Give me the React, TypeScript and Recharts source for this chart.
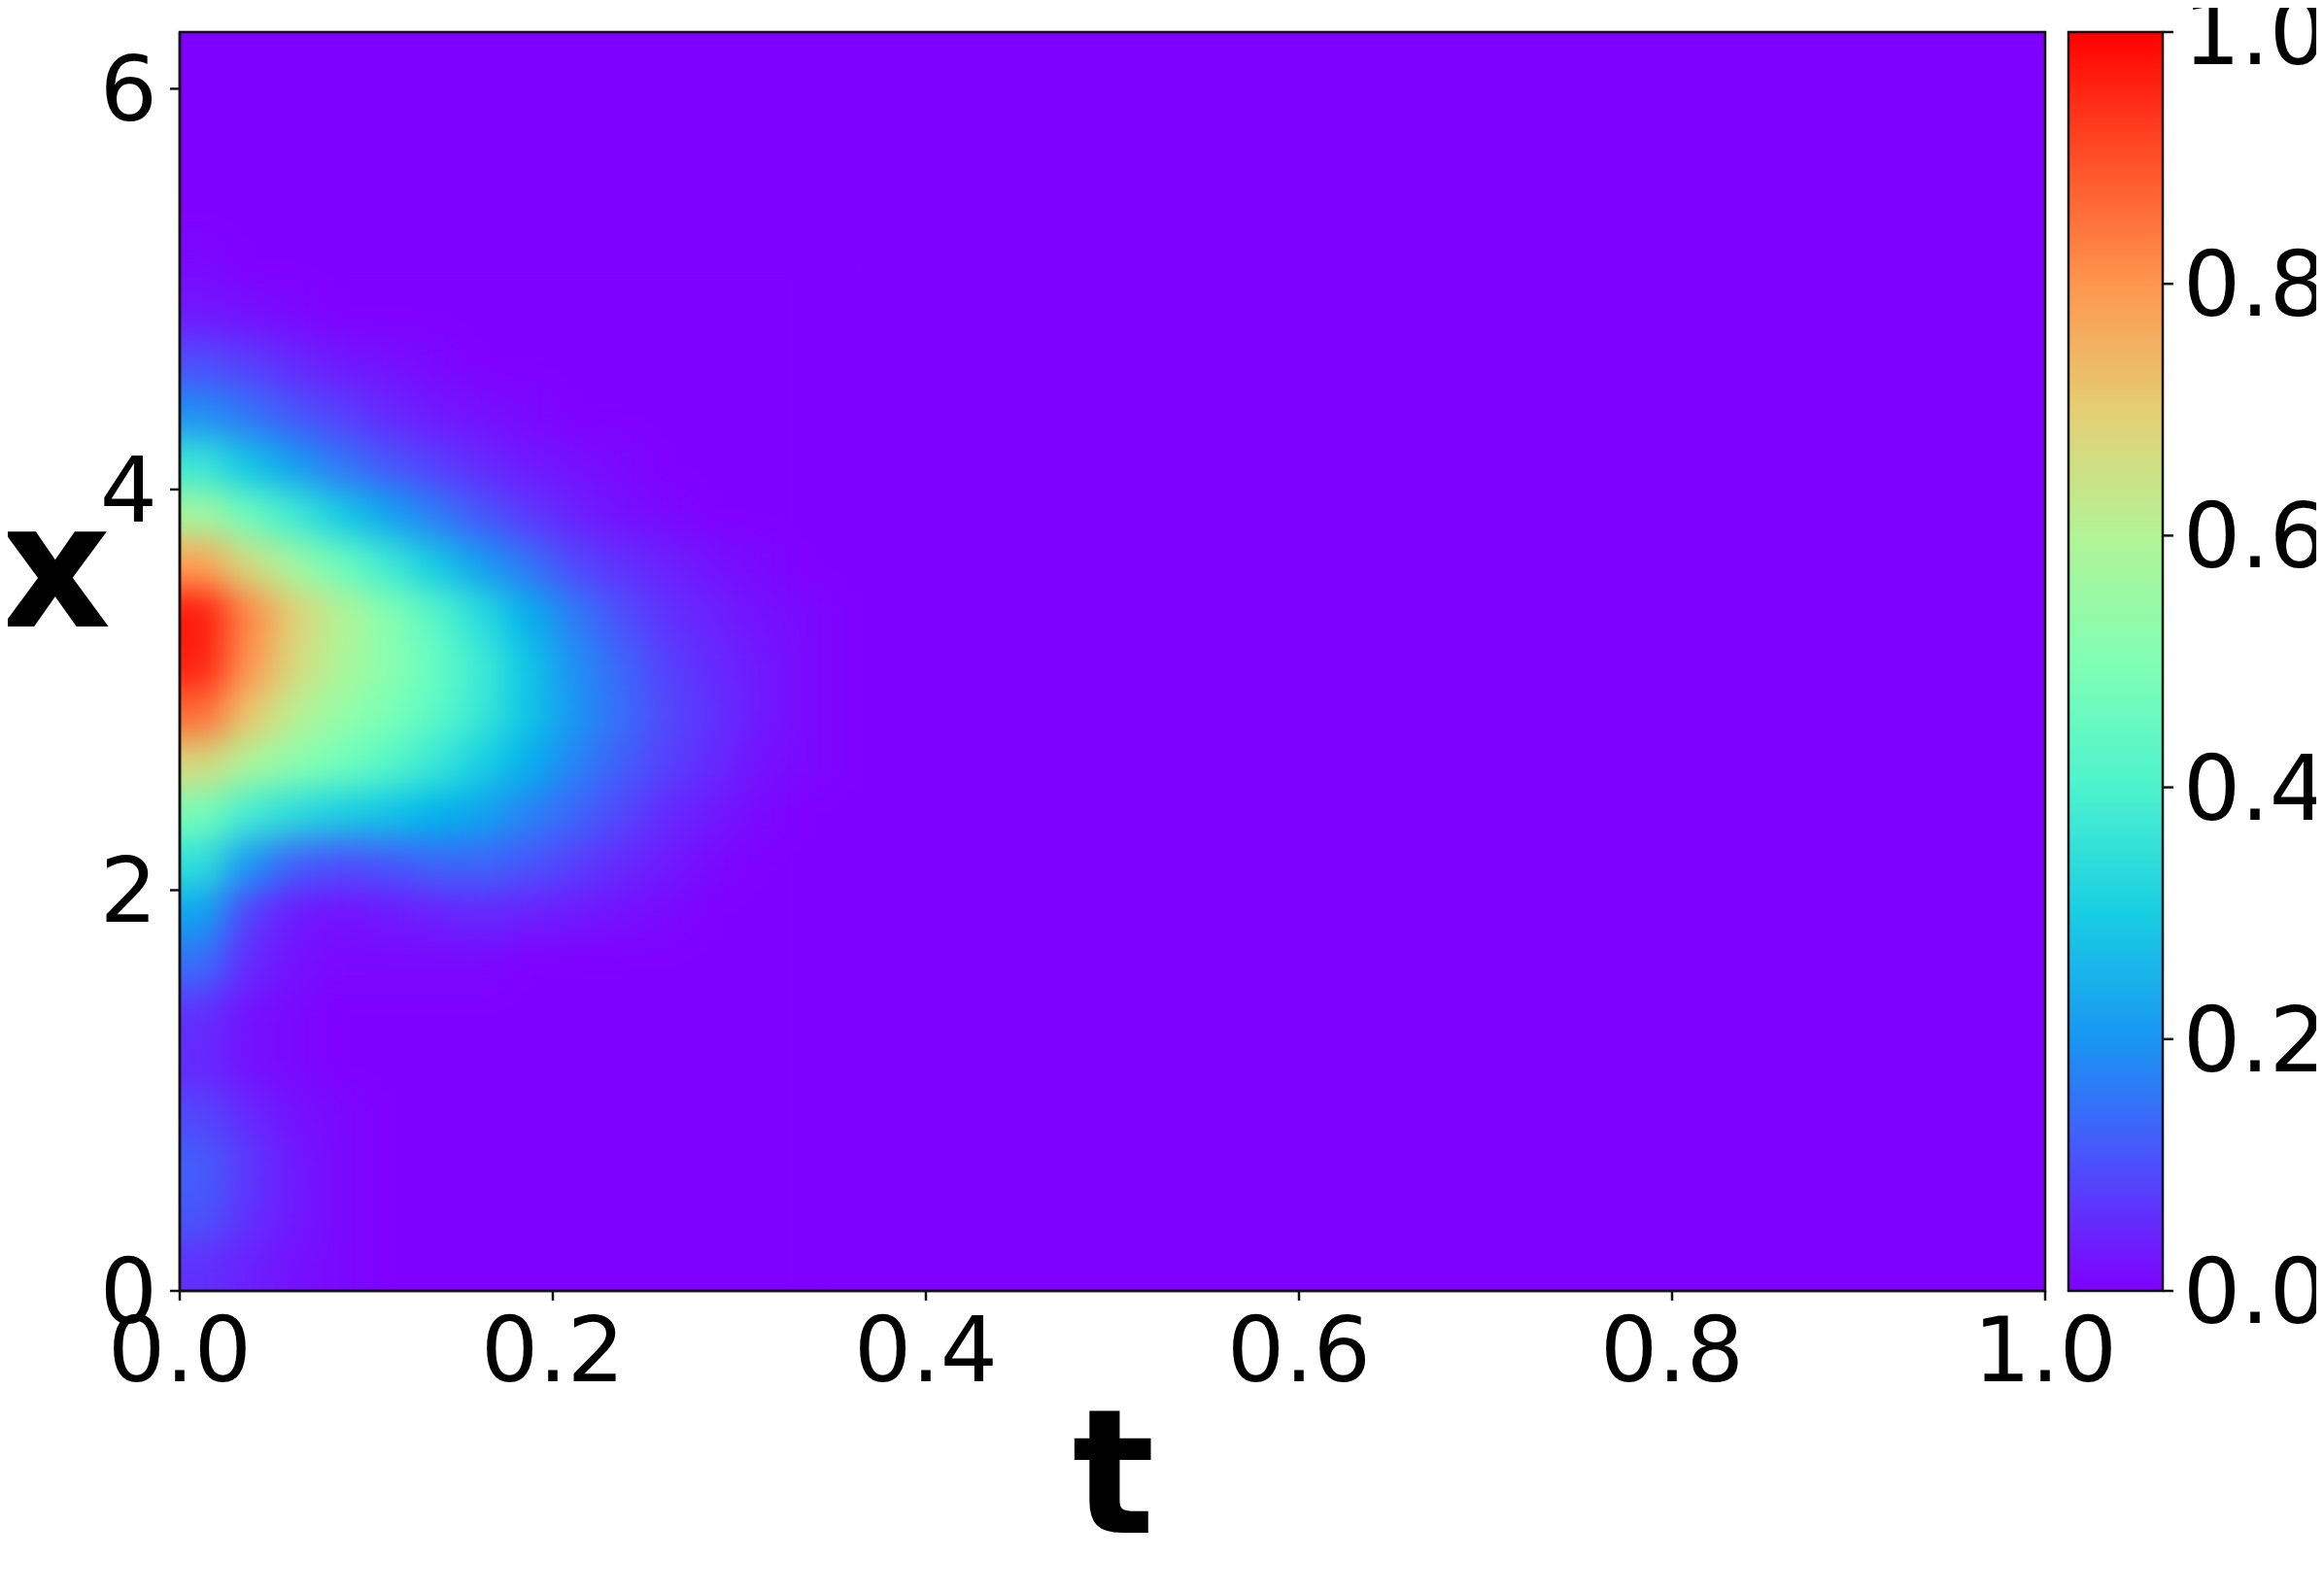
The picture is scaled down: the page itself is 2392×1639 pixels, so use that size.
import {
  ScatterChart, Scatter, XAxis, YAxis, ReferenceArea, BarChart, Bar, Label,
} from "recharts";

// heat grid: cell centres along t and x (0..1)
const T_COLS = [0.0125, 0.0375, 0.0625, 0.0875, 0.1125, 0.1375, 0.1625, 0.1875, 0.2125, 0.2375, 0.2625, 0.2875, 0.3125, 0.3375];
const X_ROWS = [5.125, 4.875, 4.625, 4.375, 4.125, 3.875, 3.625, 3.375, 3.125, 2.875, 2.625, 2.375, 2.125, 1.875, 1.625, 1.375, 1.125, 0.875, 0.625, 0.375, 0.125];

const U_5125 = [0.01, 0, 0, 0, 0, 0, 0, 0, 0, 0, 0, 0, 0, 0];
const U_4875 = [0.03, 0.02, 0.01, 0, 0, 0, 0, 0, 0, 0, 0, 0, 0, 0];
const U_4625 = [0.1, 0.08, 0.05, 0.03, 0.02, 0.01, 0, 0, 0, 0, 0, 0, 0, 0];
const U_4375 = [0.19, 0.15, 0.11, 0.08, 0.05, 0.03, 0.02, 0.01, 0, 0, 0, 0, 0, 0];
const U_4125 = [0.36, 0.28, 0.21, 0.15, 0.11, 0.08, 0.05, 0.03, 0.02, 0.01, 0, 0, 0, 0];
const U_3875 = [0.57, 0.46, 0.37, 0.29, 0.22, 0.16, 0.11, 0.07, 0.04, 0.02, 0.01, 0, 0, 0];
const U_3625 = [0.78, 0.66, 0.56, 0.46, 0.37, 0.29, 0.21, 0.15, 0.09, 0.06, 0.04, 0.02, 0.01, 0];
const U_3375 = [0.97, 0.82, 0.69, 0.6, 0.51, 0.42, 0.33, 0.24, 0.16, 0.1, 0.06, 0.04, 0.02, 0.01];
const U_3125 = [0.96, 0.8, 0.67, 0.59, 0.52, 0.45, 0.37, 0.28, 0.19, 0.13, 0.08, 0.05, 0.03, 0.01];
const U_2875 = [0.86, 0.71, 0.61, 0.54, 0.49, 0.43, 0.36, 0.28, 0.2, 0.14, 0.09, 0.06, 0.03, 0.01];
const U_2625 = [0.67, 0.58, 0.52, 0.47, 0.42, 0.36, 0.3, 0.24, 0.17, 0.12, 0.08, 0.05, 0.02, 0.01];
const U_2375 = [0.48, 0.38, 0.33, 0.3, 0.28, 0.25, 0.22, 0.17, 0.13, 0.09, 0.05, 0.03, 0.01, 0];
const U_2125 = [0.34, 0.2, 0.12, 0.1, 0.11, 0.13, 0.13, 0.11, 0.08, 0.05, 0.03, 0.01, 0, 0];
const U_1875 = [0.22, 0.08, 0.03, 0.02, 0.03, 0.04, 0.05, 0.04, 0.03, 0.02, 0.01, 0, 0, 0];
const U_1625 = [0.14, 0.05, 0.02, 0.01, 0.01, 0.01, 0.01, 0, 0, 0, 0, 0, 0, 0];
const U_1375 = [0.06, 0.02, 0.01, 0, 0, 0, 0, 0, 0, 0, 0, 0, 0, 0];
const U_1125 = [0.05, 0.02, 0.01, 0, 0, 0, 0, 0, 0, 0, 0, 0, 0, 0];
const U_0875 = [0.09, 0.05, 0.02, 0.01, 0, 0, 0, 0, 0, 0, 0, 0, 0, 0];
const U_0625 = [0.12, 0.07, 0.03, 0.01, 0, 0, 0, 0, 0, 0, 0, 0, 0, 0];
const U_0375 = [0.11, 0.06, 0.03, 0.01, 0, 0, 0, 0, 0, 0, 0, 0, 0, 0];
const U_0125 = [0.06, 0.04, 0.02, 0.01, 0, 0, 0, 0, 0, 0, 0, 0, 0, 0];

const HEAT_ROWS = [
  U_5125, U_4875, U_4625, U_4375, U_4125, U_3875, U_3625, U_3375, U_3125, U_2875, U_2625,
  U_2375, U_2125, U_1875, U_1625, U_1375, U_1125, U_0875, U_0625, U_0375, U_0125,
];

const T_TICKS = [0, 0.2, 0.4, 0.6, 0.8, 1.0];
const X_TICKS = [0, 2, 4, 6];
const CBAR_TICKS = [0, 0.2, 0.4, 0.6, 0.8, 1.0];
const X_MAX = 2 * Math.PI;

const T_STEP = 0.025;
const X_STEP = 0.25;

// layout (px)
const PLOT_L = 177;
const PLOT_T = 25;
const PLOT_W = 1920;
const PLOT_H = 1296;
const PAD = 60; // heat layer bleed, clipped away
const FONT = '"DejaVu Sans", sans-serif';
const TICK_FS = 93;
const LABEL_FS = 178;
const SPINE = "#111";

// matplotlib "rainbow"
function rainbow(v: number): string {
  const r = Math.min(1, Math.abs(2 * v - 0.5));
  const g = Math.sin(Math.PI * v);
  const b = Math.cos((Math.PI * v) / 2);
  const c = (n: number) => Math.round(Math.max(0, Math.min(1, n)) * 255);
  return `rgb(${c(r)},${c(g)},${c(b)})`;
}

const cells = X_ROWS.flatMap((x, i) => T_COLS.map((t, j) => ({ t, x, v: HEAT_ROWS[i][j] })));
const cbarData = [{ name: "c", v: 1 }];
const gradStops = [0, 0.1, 0.2, 0.3, 0.4, 0.5, 0.6, 0.7, 0.8, 0.9, 1];

const cellW = T_STEP * PLOT_W;
const cellH = (X_STEP / X_MAX) * PLOT_H;
const firstT = T_COLS[0];
const lastX = X_ROWS[X_ROWS.length - 1];

function HeatCell(props: any) {
  const { cx, cy, payload } = props;
  if (cx == null || cy == null) return null;
  // edge cells reach into the clipped margin so the blur keeps the edge value
  const growL = payload.t === firstT ? PAD : 0;
  const growB = payload.x === lastX ? PAD : 0;
  return (
    <rect x={cx - cellW / 2 - 0.5 - growL} y={cy - cellH / 2 - 0.5}
      width={cellW + 1 + growL} height={cellH + 1 + growB} fill={rainbow(payload.v)} />
  );
}

const NoShape = () => null;

const tickStyle = { fill: "#000", fontSize: TICK_FS, fontFamily: FONT };

export default function App() {
  return (
    <div style={{ position: "relative", width: 2384, height: 1631 }}>
      <svg width={0} height={0} style={{ position: "absolute" }}>
        <defs>
          <linearGradient id="cbarGrad" x1="0" y1="1" x2="0" y2="0">
            {gradStops.map(s => <stop key={s} offset={s} stopColor={rainbow(s)} />)}
          </linearGradient>
        </defs>
      </svg>

      {/* heat layer, blurred and clipped to the plot box */}
      <div style={{
        position: "absolute", left: PLOT_L, top: PLOT_T, width: PLOT_W, height: PLOT_H,
        overflow: "hidden", background: "#8000ff",
      }}>
        <div style={{ position: "absolute", left: -PAD, top: -PAD, filter: "blur(18px)" }}>
          <ScatterChart width={PLOT_W + 2 * PAD} height={PLOT_H + 2 * PAD}
            margin={{ top: PAD, right: PAD, bottom: PAD, left: PAD }}>
            <XAxis type="number" dataKey="t" domain={[0, 1]} hide />
            <YAxis type="number" dataKey="x" domain={[0, X_MAX]} hide />
            <Scatter data={cells} shape={HeatCell} isAnimationActive={false} />
          </ScatterChart>
        </div>
      </div>

      {/* axes, ticks and frame */}
      <div style={{ position: "absolute", left: 0, top: 0 }}>
        <ScatterChart width={2384} height={1631}
          margin={{ top: PLOT_T, right: 2384 - PLOT_L - PLOT_W, bottom: 10, left: 0 }}>
          <XAxis type="number" dataKey="t" domain={[0, 1]} ticks={T_TICKS} interval={0}
            tickFormatter={(v: number) => v.toFixed(1)} height={300}
            tick={tickStyle} tickSize={10} tickMargin={17}
            axisLine={{ stroke: SPINE, strokeWidth: 2.5 }} tickLine={{ stroke: SPINE, strokeWidth: 2.5 }}>
            <Label content={(p: any) => {
              const vb = p.viewBox || { x: PLOT_L, y: PLOT_T + PLOT_H, width: PLOT_W };
              return (
                <text x={vb.x + vb.width / 2 + 1} y={vb.y + 249} textAnchor="middle"
                  fontFamily={FONT} fontWeight="bold" fontSize={LABEL_FS} fill="#000">t</text>
              );
            }} />
          </XAxis>
          <YAxis type="number" dataKey="x" domain={[0, X_MAX]} ticks={X_TICKS} interval={0}
            width={PLOT_L} tick={tickStyle} tickSize={10} tickMargin={13}
            axisLine={{ stroke: SPINE, strokeWidth: 2.5 }} tickLine={{ stroke: SPINE, strokeWidth: 2.5 }}>
            <Label content={(p: any) => {
              const vb = p.viewBox || { x: 0, y: PLOT_T };
              return (
                <text x={vb.x + 49} y={vb.y + 612} textAnchor="middle"
                  fontFamily={FONT} fontWeight="bold" fontSize={LABEL_FS} fill="#000">x</text>
              );
            }} />
          </YAxis>
          <Scatter data={cells} shape={NoShape} isAnimationActive={false} />
          <ReferenceArea x1={0} x2={1} y1={0} y2={X_MAX} fill="none" stroke={SPINE} strokeWidth={2.5} />
        </ScatterChart>
      </div>

      {/* colour bar */}
      <div style={{ position: "absolute", left: 2110, top: 0 }}>
        <BarChart width={274} height={1631} data={cbarData} barCategoryGap={0}
          margin={{ top: PLOT_T, right: 0, bottom: 310, left: 11 }}>
          <XAxis dataKey="name" hide />
          <YAxis orientation="right" type="number" domain={[0, 1]} ticks={CBAR_TICKS} interval={0}
            width={166} tickFormatter={(v: number) => v.toFixed(1)} tick={tickStyle}
            tickSize={11} tickMargin={10} axisLine={false}
            tickLine={{ stroke: SPINE, strokeWidth: 2.5 }} />
          <Bar dataKey="v" fill="url(#cbarGrad)" stroke={SPINE} strokeWidth={2.5} isAnimationActive={false} />
        </BarChart>
      </div>
    </div>
  );
}
